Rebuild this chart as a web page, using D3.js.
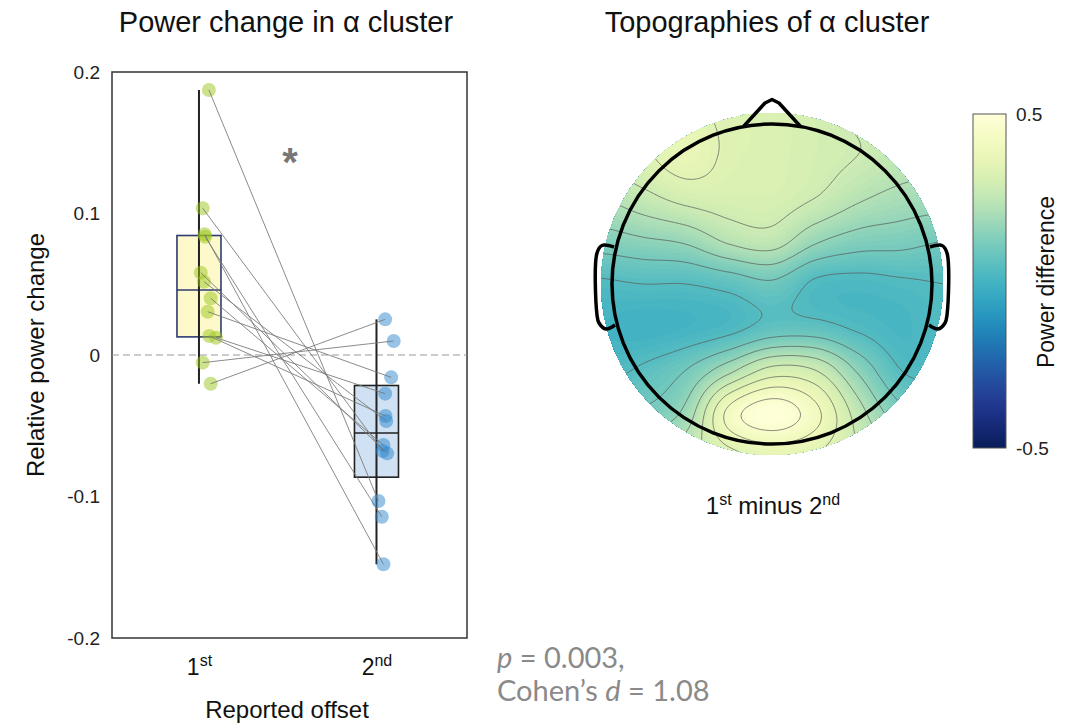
<!DOCTYPE html>
<html>
<head>
<meta charset="utf-8">
<script src="https://cdn.jsdelivr.net/npm/d3@7"></script>
<style>
  body { margin: 0; background: #fff; }
  svg { display: block; font-family: "Liberation Sans", Arial, sans-serif; }
</style>
</head>
<body>
<svg id="chart" width="1069" height="725"></svg>
<script>
// ---- data ----
// relative power change per subject, same subject order in both arrays
const conditionNumbers = ["1", "2"];
const conditionSuffixes = ["st", "nd"];
const firstOffsetPower = [0.1873, 0.1037, 0.0853, 0.0836, 0.0582, 0.0518, 0.0401, 0.0306, 0.0134, 0.0122, -0.0054, -0.0203];
const secondOffsetPower = [-0.1032, -0.0678, -0.1479, -0.1143, -0.0695, -0.0466, -0.0636, -0.0158, -0.0431, -0.0273, 0.0099, 0.0252];
// horizontal scatter of the dots (category units)
const firstJitter = [0.056, 0.021, 0.032, 0.035, 0.010, 0.028, 0.066, 0.049, 0.058, 0.096, 0.021, 0.066];
const secondJitter = [0.011, 0.035, 0.039, 0.030, 0.060, 0.055, 0.039, 0.083, 0.051, 0.049, 0.097, 0.049];
const yTickValues = [-0.2, -0.1, 0, 0.1, 0.2];

// topography of the alpha cluster (1st minus 2nd), 9x9 samples over the head disk
// columns: left -> right, rows: front (nose) -> back
const topoAxis = [-1, -0.75, -0.5, -0.25, 0, 0.25, 0.5, 0.75, 1];
const topoRows = [
  [0.32, 0.33, 0.35, 0.33, 0.32, 0.30, 0.27, 0.25, 0.24],
  [0.30, 0.33, 0.37, 0.33, 0.32, 0.30, 0.28, 0.25, 0.24],
  [0.22, 0.26, 0.30, 0.31, 0.31, 0.28, 0.23, 0.20, 0.19],
  [0.13, 0.15, 0.17, 0.23, 0.25, 0.17, 0.13, 0.12, 0.10],
  [0.03, 0.04, 0.04, 0.06, 0.09, 0.03, 0.02, 0.03, 0.04],
  [0.00, -0.01, 0.00, 0.02, 0.06, 0.06, 0.03, 0.01, 0.03],
  [0.02, 0.05, 0.10, 0.20, 0.30, 0.28, 0.15, 0.04, 0.03],
  [0.10, 0.11, 0.18, 0.42, 0.50, 0.42, 0.25, 0.12, 0.10],
  [0.20, 0.22, 0.26, 0.32, 0.36, 0.34, 0.28, 0.22, 0.20]
];
const contourLevels = [-0.02, 0.04, 0.10, 0.16, 0.22, 0.28, 0.34, 0.40, 0.46];
const colorbarTicks = [-0.5, 0.5];

const svg = d3.select("#chart");

// MATLAB-style quantile (position p*n + 0.5), which is what the boxes use
function matlabQuantile(values, p) {
    const s = values.slice().sort((a, b) => a - b);
    const n = s.length;
    let pos = p * n + 0.5;
    if (pos <= 1) return s[0];
    if (pos >= n) return s[n - 1];
    const lo = Math.floor(pos);
    return s[lo - 1] + (pos - lo) * (s[lo] - s[lo - 1]);
}

function addSuperLabel(sel, base, sup, baseSize, supSize) {
    sel.append("tspan").style("font-size", baseSize + "px").text(base);
    sel.append("tspan").style("font-size", supSize + "px").attr("dy", -baseSize * 0.38).text(sup);
}

function drawBoxPanel() {
    const margin = { left: 112, right: 467, top: 72, bottom: 638 };
    const x = d3.scaleLinear().domain([0.51, 2.51]).range([margin.left, margin.right]);
    const y = d3.scaleLinear().domain([-0.2, 0.2]).range([margin.bottom, margin.top]);

    svg.append("text")
        .attr("x", 286).attr("y", 32)
        .attr("text-anchor", "middle")
        .style("font-size", "29px").attr("fill", "#111")
        .text("Power change in α cluster");

    // frame
    svg.append("rect")
        .attr("x", margin.left).attr("y", margin.top)
        .attr("width", margin.right - margin.left).attr("height", margin.bottom - margin.top)
        .attr("fill", "none").attr("stroke", "#333").attr("stroke-width", 1.5);

    // Y axis labels
    const yAxis = svg.append("g")
        .attr("transform", `translate(${margin.left},0)`)
        .call(d3.axisLeft(y).tickValues(yTickValues).tickSize(0).tickPadding(12)
            .tickFormat(d => d === 0 ? "0" : String(d)));
    yAxis.select(".domain").remove();
    yAxis.selectAll("text").style("font-size", "19px").attr("fill", "#222")
        .style("font-family", "'Liberation Sans', Arial, sans-serif");

    // X axis labels with superscripts
    const xAxis = svg.append("g")
        .attr("transform", `translate(0,${margin.bottom})`)
        .call(d3.axisBottom(x).tickValues([1, 2]).tickSize(0).tickPadding(37).tickFormat(""));
    xAxis.select(".domain").remove();
    xAxis.selectAll(".tick text").each(function (d, i) {
        const t = d3.select(this).attr("fill", "#111").attr("dy", "0")
            .style("font-family", "'Liberation Sans', Arial, sans-serif");
        addSuperLabel(t, conditionNumbers[i], conditionSuffixes[i], 23, 16);
    });

    svg.append("text")
        .attr("transform", "translate(44,355) rotate(-90)")
        .attr("text-anchor", "middle")
        .style("font-size", "24px").attr("fill", "#111")
        .text("Relative power change");

    svg.append("text")
        .attr("x", 287).attr("y", 718)
        .attr("text-anchor", "middle")
        .style("font-size", "24px").attr("fill", "#111")
        .text("Reported offset");

    // zero reference
    svg.append("line")
        .attr("x1", margin.left).attr("x2", margin.right)
        .attr("y1", y(0)).attr("y2", y(0))
        .attr("stroke", "#999").attr("stroke-width", 1.2).attr("stroke-dasharray", "7,4");

    const groups = [
        { pos: 1, values: firstOffsetPower, jitter: firstJitter, fill: "#fdf9cb", stroke: "#2d3b72", dot: "rgb(155,197,25)" },
        { pos: 2, values: secondOffsetPower, jitter: secondJitter, fill: "#cfe1f2", stroke: "#222", dot: "rgb(45,135,205)" }
    ];
    const halfBox = 0.124;

    groups.forEach(g => {
        const q1 = matlabQuantile(g.values, 0.25);
        const med = matlabQuantile(g.values, 0.5);
        const q3 = matlabQuantile(g.values, 0.75);
        svg.append("rect")
            .attr("x", x(g.pos - halfBox)).attr("width", x(g.pos + halfBox) - x(g.pos - halfBox))
            .attr("y", y(q3)).attr("height", y(q1) - y(q3))
            .attr("fill", g.fill).attr("stroke", g.stroke).attr("stroke-width", 1.6);
        svg.append("line")
            .attr("x1", x(g.pos - halfBox)).attr("x2", x(g.pos + halfBox))
            .attr("y1", y(med)).attr("y2", y(med))
            .attr("stroke", g.stroke).attr("stroke-width", 1.6);
        svg.append("line")
            .attr("x1", x(g.pos)).attr("x2", x(g.pos))
            .attr("y1", y(d3.max(g.values))).attr("y2", y(d3.min(g.values)))
            .attr("stroke", "#222").attr("stroke-width", 2);
    });

    // dots
    groups.forEach(g => {
        svg.append("g").selectAll("circle")
            .data(g.values)
            .enter()
            .append("circle")
            .attr("cx", (d, i) => x(g.pos + g.jitter[i]))
            .attr("cy", d => y(d))
            .attr("r", 7)
            .attr("fill", g.dot)
            .attr("fill-opacity", 0.5);
    });

    // paired lines
    svg.append("g").selectAll("line")
        .data(firstOffsetPower)
        .enter()
        .append("line")
        .attr("x1", (d, i) => x(1 + firstJitter[i]))
        .attr("y1", d => y(d))
        .attr("x2", (d, i) => x(2 + secondJitter[i]))
        .attr("y2", (d, i) => y(secondOffsetPower[i]))
        .attr("stroke", "#777").attr("stroke-opacity", 0.85).attr("stroke-width", 1);

    // significance mark
    svg.append("text")
        .attr("x", 290).attr("y", 176)
        .attr("text-anchor", "middle")
        .style("font-size", "40px").style("font-weight", "bold")
        .attr("fill", "#777")
        .text("*");

    // stats
    const stats = svg.append("g")
        .style("font-family", "Lato, 'Open Sans', sans-serif")
        .style("font-size", "29px")
        .attr("fill", "#8a8a8a");
    const p = stats.append("text").attr("x", 497).attr("y", 668);
    p.append("tspan").style("font-style", "italic").text("p");
    p.append("tspan").text(" = 0.003,");
    const c = stats.append("text").attr("x", 497).attr("y", 701);
    c.append("tspan").text("Cohen’s ");
    c.append("tspan").style("font-style", "italic").text("d");
    c.append("tspan").text(" = 1.08");
}

// smooth (Catmull-Rom) resampling of the topography grid for display
function cubic(p0, p1, p2, p3, t) {
    return p1 + 0.5 * t * (p2 - p0 + t * (2 * p0 - 5 * p1 + 4 * p2 - p3 + t * (3 * (p1 - p2) + p3 - p0)));
}
function sampleTopo(u, v) {
    const n = topoAxis.length;
    const step = topoAxis[1] - topoAxis[0];
    const gx = Math.max(0, Math.min(n - 1, (u - topoAxis[0]) / step));
    const gy = Math.max(0, Math.min(n - 1, (v - topoAxis[0]) / step));
    const ix = Math.min(n - 2, Math.floor(gx)), iy = Math.min(n - 2, Math.floor(gy));
    const tx = gx - ix, ty = gy - iy;
    const get = (r, c) => topoRows[Math.max(0, Math.min(n - 1, r))][Math.max(0, Math.min(n - 1, c))];
    const rows = [];
    for (let k = -1; k <= 2; k++) {
        rows.push(cubic(get(iy + k, ix - 1), get(iy + k, ix), get(iy + k, ix + 1), get(iy + k, ix + 2), tx));
    }
    return cubic(rows[0], rows[1], rows[2], rows[3], ty);
}

function drawTopoPanel() {
    const cx = 772, cy = 284;
    const unit = 172;      // pixels per normalised head unit
    const diskR = 171;     // coloured area
    const headR = 160;     // head outline
    const span = 1.06;
    const N = 140;

    svg.append("text")
        .attr("x", 767).attr("y", 32)
        .attr("text-anchor", "middle")
        .style("font-size", "29px").attr("fill", "#111")
        .text("Topographies of α cluster");

    const color = v => d3.interpolateYlGnBu(Math.max(0, Math.min(1, 0.5 - v)));

    const grid = new Array(N * N);
    for (let j = 0; j < N; j++) {
        for (let i = 0; i < N; i++) {
            const u = -span + (i + 0.5) * 2 * span / N;
            const v = -span + (j + 0.5) * 2 * span / N;
            grid[j * N + i] = sampleTopo(u, v);
        }
    }

    const projection = d3.geoIdentity()
        .scale(2 * span * unit / N)
        .translate([cx - span * unit, cy - span * unit]);
    const path = d3.geoPath(projection);

    svg.append("defs").append("clipPath").attr("id", "disk")
        .append("circle").attr("cx", cx).attr("cy", cy).attr("r", diskR);

    const topo = svg.append("g").attr("clip-path", "url(#disk)");
    const fillLevels = d3.range(-0.5, 0.5, 0.0125);
    topo.append("circle").attr("cx", cx).attr("cy", cy).attr("r", diskR).attr("fill", color(-0.1));
    topo.selectAll("path.fill")
        .data(d3.contours().size([N, N]).thresholds(fillLevels)(grid))
        .enter()
        .append("path")
        .attr("class", "fill")
        .attr("d", path)
        .attr("fill", d => color(d.value + 0.006))
        .attr("stroke", d => color(d.value + 0.006))
        .attr("stroke-width", 0.4);

    topo.selectAll("path.iso")
        .data(d3.contours().size([N, N]).thresholds(contourLevels)(grid))
        .enter()
        .append("path")
        .attr("class", "iso")
        .attr("d", path)
        .attr("fill", "none")
        .attr("stroke", "#555")
        .attr("stroke-opacity", 0.75)
        .attr("stroke-width", 0.9);

    // head, nose, ears
    const outline = svg.append("g")
        .attr("fill", "none").attr("stroke", "#000").attr("stroke-width", 3.5)
        .attr("stroke-linejoin", "round");
    outline.append("circle").attr("cx", cx).attr("cy", cy).attr("r", headR);

    const shape = d3.line().curve(d3.curveCatmullRom.alpha(0.5));
    const nose = [[-28.5, -157.5], [-7, -181], [0, -184.5], [7, -181], [28.5, -157.5]];
    outline.append("path").attr("d", d3.line()(nose.map(p => [cx + p[0], cy + p[1]])));
    const ear = [[-158, -37], [-170, -38.5], [-175, -31], [-175, 31], [-173, 39], [-166, 45], [-157, 41]];
    outline.append("path").attr("d", shape(ear.map(p => [cx + p[0], cy + p[1]])));
    outline.append("path").attr("d", shape(ear.map(p => [cx - p[0], cy + p[1]])));

    // caption
    const cap = svg.append("text")
        .attr("x", 773).attr("y", 514)
        .attr("text-anchor", "middle")
        .attr("fill", "#111");
    cap.append("tspan").style("font-size", "24px").text("1");
    cap.append("tspan").style("font-size", "16px").attr("dy", -9).text("st");
    cap.append("tspan").style("font-size", "24px").attr("dy", 9).text(" minus 2");
    cap.append("tspan").style("font-size", "16px").attr("dy", -9).text("nd");

    // colour bar
    const cbX = 973, cbW = 33, cbTop = 114, cbBottom = 448;
    const grad = svg.select("defs").append("linearGradient")
        .attr("id", "cbGrad").attr("x1", 0).attr("y1", 0).attr("x2", 0).attr("y2", 1);
    d3.range(0, 1.0001, 0.05).forEach(t => {
        grad.append("stop").attr("offset", t).attr("stop-color", d3.interpolateYlGnBu(t));
    });
    svg.append("rect")
        .attr("x", cbX).attr("y", cbTop).attr("width", cbW).attr("height", cbBottom - cbTop)
        .attr("fill", "url(#cbGrad)").attr("stroke", "#555").attr("stroke-width", 1);

    const cbScale = d3.scaleLinear().domain([-0.5, 0.5]).range([cbBottom, cbTop]);
    const cbAxis = svg.append("g")
        .attr("transform", `translate(${cbX + cbW},0)`)
        .call(d3.axisRight(cbScale).tickValues(colorbarTicks).tickSize(0).tickPadding(10)
            .tickFormat(d => String(d)));
    cbAxis.select(".domain").remove();
    cbAxis.selectAll("text").style("font-size", "19px").attr("fill", "#222")
        .style("font-family", "'Liberation Sans', Arial, sans-serif");

    svg.append("text")
        .attr("transform", "translate(1054,282) rotate(-90)")
        .attr("text-anchor", "middle")
        .style("font-size", "23px").attr("fill", "#111")
        .text("Power difference");
}

drawBoxPanel();
drawTopoPanel();
</script>
</body>
</html>
